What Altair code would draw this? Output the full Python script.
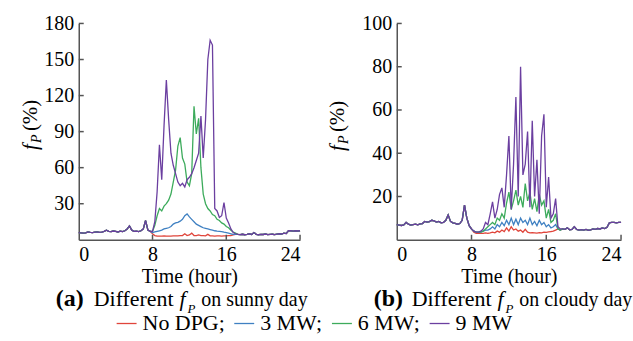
import altair as alt
import pandas as pd

SERIES = ["No DPG", "3 MW", "6 MW", "9 MW"]
COLORS = ["#e0453b", "#3f80c2", "#3dab5c", "#6b3fa0"]

# ---------- time grids (hours) ----------
am_hours = [0, 0.25, 0.5, 0.75, 1, 1.25, 1.5, 1.75, 2, 2.25, 2.5, 2.75, 3, 3.25, 3.5, 3.75,
            4, 4.25, 4.5, 4.75, 5, 5.25, 5.5, 5.75, 6, 6.25, 6.5, 6.75, 7, 7.25, 7.5, 7.75]
sunny_day_hours = [8, 8.25, 8.5, 8.75, 9, 9.25, 9.5, 9.75, 10, 10.25, 10.5, 10.75, 11, 11.25,
                   11.5, 11.75, 12, 12.25, 12.5, 12.75, 13, 13.25, 13.5, 13.75, 14, 14.25,
                   14.5, 14.75, 15, 15.25, 15.5, 15.75, 16, 16.25, 16.5, 16.75, 17]
sunny_pm_hours = [17.25, 17.5, 17.75, 18, 18.25, 18.5, 18.75, 19, 19.25, 19.5, 19.75, 20,
                  20.25, 20.5, 20.75, 21, 21.25, 21.5, 21.75, 22, 22.25, 22.5, 22.75, 23,
                  23.25, 23.5, 23.75, 24]
cloudy_day_hours = [8, 8.25, 8.5, 8.75, 9, 9.25, 9.5, 9.75, 10, 10.25, 10.5, 10.75, 11, 11.25,
                    11.5, 11.75, 12, 12.25, 12.5, 12.75, 13, 13.25, 13.5, 13.75, 14, 14.25,
                    14.5, 14.75, 15, 15.25, 15.5, 15.75, 16, 16.25, 16.5, 16.75, 17, 17.25, 17.5]
cloudy_pm_hours = [17.75, 18, 18.25, 18.5, 18.75, 19, 19.25, 19.5, 19.75, 20, 20.25, 20.5,
                   20.75, 21, 21.25, 21.5, 21.75, 22, 22.25, 22.5, 22.75, 23, 23.25, 23.5,
                   23.75, 24]

# ---------- sunny day f_P (%) ----------
sunny_am = [6, 5.8, 5.5, 5.7, 6.5, 6.2, 6, 6.3, 6.5, 6.1, 6.4, 7, 8, 7, 6.8, 7.3,
            7, 6.5, 7.2, 6.8, 7.5, 9, 11.5, 8, 7, 7.2, 6.8, 7.5, 9, 16, 8, 7]
sunny_nodpg = [5, 3.5, 3, 3, 3, 3.2, 3, 3.1, 3, 3.2, 3.3, 3.2, 3.5, 3.5, 5, 3.5, 4, 5.5, 3.5,
               3.5, 4, 3.5, 3.5, 3.3, 4.5, 3.3, 3.2, 3.1, 3.3, 3.2, 3, 3.2, 3.3, 3.5, 3.5, 4, 4.5]
sunny_3mw = [6, 6.5, 7, 7.5, 8, 9, 9.5, 10, 11, 13, 14, 14.5, 15.5, 17, 20, 21.5, 19, 17, 15,
             13, 12, 11, 10, 9.5, 9, 8.5, 8, 7.5, 7.2, 7, 6.8, 6.3, 6, 5.5, 5, 4.5, 4.5]
sunny_6mw = [7, 12, 20, 26, 24, 28, 30, 33, 38, 48, 58, 78, 85, 68, 63, 48, 45, 55, 111, 88,
             101, 60, 38, 30, 26, 24, 21, 20, 17, 16, 14, 13, 11, 10, 8, 6.5, 5.5]
sunny_9mw = [7, 15, 40, 79, 50, 95, 133, 100, 72, 62, 55, 48, 45, 47, 44, 50, 52, 55, 60, 66,
             72, 103, 68, 100, 150, 166, 162, 26, 24, 18.5, 20, 31, 18, 14, 9, 6, 5]
sunny_pm = [4.5, 4.3, 4.6, 4.2, 4.5, 5, 4.4, 6, 4.5, 4.2, 4.5, 4.4, 4.8, 4.3, 4.5, 4.6,
            4.3, 4.7, 5, 4.8, 5.5, 5.2, 7.5, 7.5, 7.2, 7.5, 7.3, 7.5]

# ---------- cloudy day f_P (%) ----------
cloudy_am = [7, 6.8, 6.6, 6.9, 8, 7.2, 6.8, 7, 7.2, 6.9, 7.3, 7.5, 8.5, 8.2, 8.4, 9,
             8.7, 8.2, 8.5, 7.8, 8, 9, 11.5, 8.5, 7.8, 7.6, 7.2, 7.5, 9, 16, 10, 6.5]
cloudy_nodpg = [5, 3.5, 3, 3, 3, 3, 3.2, 3, 3.2, 3.5, 3.2, 4, 3.5, 4.5, 3.8, 5.5, 4, 6, 4.5, 5,
                4, 4.5, 3.5, 4.8, 3.5, 3.2, 3.3, 3.2, 3.1, 3.3, 3.2, 3.5, 3.4, 3.6, 3.8, 4, 4.5, 5, 4.5]
cloudy_3mw = [5, 4, 3.5, 3.5, 3.5, 4, 4.5, 4.5, 5, 6, 5, 7, 6, 8, 6.5, 9, 7, 10, 7, 9.5,
              7, 10, 8, 9, 7, 10, 7, 8.5, 6.5, 9, 7, 8, 6, 7, 5.5, 6, 7, 5, 4.5]
cloudy_6mw = [5, 4, 3.5, 3.5, 3.5, 4, 5, 6, 7, 8, 7, 10, 9, 12, 10, 17, 22, 14, 18, 23,
              16, 20, 15, 26, 18, 22, 14, 19, 13, 21, 16, 18, 10, 14, 8, 9, 12, 5, 4.5]
cloudy_9mw = [5, 4, 3.5, 3.5, 4, 5, 8, 7, 12, 17.5, 10, 14, 21, 24, 15, 30, 48, 14, 35, 66,
              20, 80, 30, 35, 50, 15, 55, 20, 37, 12, 48, 58, 15, 29, 10, 12, 19, 6, 5]
cloudy_pm = [5, 4.8, 5.5, 4.6, 4.8, 6, 4.8, 4.5, 4.7, 4.5, 4.8, 4.4, 4.6, 5, 4.8, 5.2,
             5, 5.5, 5.2, 5.8, 7.8, 8, 8, 7.8, 8, 8]

sunny_ticks = [30, 60, 90, 120, 150, 180]
cloudy_ticks = [20, 40, 60, 80, 100]
x_ticks = [0, 8, 16, 24]
x_tick_marks = [8, 16, 24]

W_L, W_R, H = 222, 225, 217
AXC = "#555555"
SERIF = "Times New Roman, Liberation Serif, DejaVu Serif, serif"


def build(am_v, day_h, day_vals, pm_h, pm_v):
    rows = []
    for name, vals in zip(SERIES, day_vals):
        for h, v in zip(am_hours, am_v):
            rows.append({"hour": h, "fp": v, "series": name})
        for h, v in zip(day_h, vals):
            rows.append({"hour": h, "fp": v, "series": name})
        for h, v in zip(pm_h, pm_v):
            rows.append({"hour": h, "fp": v, "series": name})
    return pd.DataFrame(rows)


sunny_df = build(sunny_am, sunny_day_hours,
                 [sunny_nodpg, sunny_3mw, sunny_6mw, sunny_9mw], sunny_pm_hours, sunny_pm)
cloudy_df = build(cloudy_am, cloudy_day_hours,
                  [cloudy_nodpg, cloudy_3mw, cloudy_6mw, cloudy_9mw], cloudy_pm_hours, cloudy_pm)


def txt(s, x, y, size=22, weight="normal", style="normal", angle=0, align="left",
        baseline="alphabetic"):
    return alt.Chart(pd.DataFrame({"k": [0]})).mark_text(
        text=s, font=SERIF, fontSize=size, fontWeight=weight, fontStyle=style,
        angle=angle, align=align, baseline=baseline, color="black"
    ).encode(x=alt.value(x), y=alt.value(y))


def panel(df, W, ymax, yticks, letter, rest, ytx):
    xenc = alt.X("hour:Q", scale=alt.Scale(domain=[0, 24], nice=False, zero=False),
                 axis=alt.Axis(values=x_ticks, title="Time (hour)", format="d"))
    lines = alt.Chart(df).mark_line(strokeWidth=1.3).encode(
        x=xenc,
        y=alt.Y("fp:Q", scale=alt.Scale(domain=[0, ymax], nice=False),
                axis=alt.Axis(values=yticks, title=None, format="d")),
        color=alt.Color("series:N", sort=SERIES,
                        scale=alt.Scale(domain=SERIES, range=COLORS),
                        legend=alt.Legend(
                            title=None, orient="none", direction="horizontal",
                            legendX=37, legendY=290,
                            symbolType="stroke", symbolSize=400, symbolStrokeWidth=1.3,
                            labelFont=SERIF, labelFontSize=22, labelColor="black",
                            columnPadding=6, labelOffset=5,
                            labelExpr="datum.label == '9 MW' ? datum.label : datum.label + ';'")),
    )
    xt = alt.Chart(pd.DataFrame({"hour": x_tick_marks})).mark_rule(
        color=AXC, strokeWidth=1.5).encode(
        x=xenc, y=alt.value(H), y2=alt.value(H - 5))
    yt = alt.Chart(pd.DataFrame({"fp": yticks})).mark_rule(
        color=AXC, strokeWidth=1.5).encode(
        y=alt.Y("fp:Q", axis=alt.Axis(values=yticks, title=None, format="d")),
        x=alt.value(0), x2=alt.value(5))
    ycap = ytx[1]
    texts = [
        txt("f", ytx[0], ycap + 29, size=21, style="italic", angle=270, baseline="middle"),
        txt("P", ytx[0] + 6, ycap + 22, size=14, style="italic", angle=270, baseline="middle"),
        txt("(%)", ytx[0], ycap + 10, size=21, angle=270, baseline="middle"),
        txt(letter, -23, 283, size=24, weight="bold"),
        txt("Different", 15, 283),
        txt("f", 101, 283, style="italic"),
        txt("P", 109, 290, size=13, style="italic"),
        txt(rest, 123, 283, size=20),
    ]
    return alt.layer(lines, xt, yt, *texts).properties(width=W, height=H)


left = panel(sunny_df, W_L, 180, sunny_ticks, "(a)", "on sunny day", (-48, 98))
right = panel(cloudy_df, W_R, 100, cloudy_ticks, "(b)", "on cloudy day", (-59, 99))

chart = alt.hconcat(left, right, spacing=19).resolve_scale(
    x="independent", y="independent", color="shared"
).properties(
    padding={"left": 20, "top": 13, "right": 0, "bottom": 0}
).configure_view(stroke=None).configure_axis(
    domainColor=AXC, domainWidth=1.5, ticks=False, grid=False,
    labelFont=SERIF, labelFontSize=20, labelColor="black", labelPadding=5,
    titleFont=SERIF, titleFontSize=20, titleFontWeight="normal", titleColor="black",
    titlePadding=2,
)

chart.save("out.html", embed_options={"renderer": "svg", "actions": False})
